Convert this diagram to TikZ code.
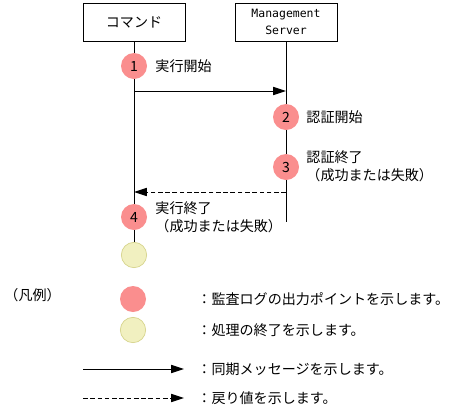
\documentclass[tikz,border=0pt]{standalone}
\usepackage{fontspec}
\setmainfont{Noto Sans CJK JP}
\newfontfamily\latinmono{DejaVu Sans Mono}
\usetikzlibrary{arrows.meta}
\definecolor{logpink}{RGB}{250,142,142}
\definecolor{endyellow}{RGB}{241,240,192}
\definecolor{endedge}{RGB}{214,212,140}
\begin{document}
\begin{tikzpicture}[x=0.03cm,y=-0.03cm,line width=0.8pt,
  >={Triangle[length=11pt,width=7pt]},
  font=\fontsize{12}{15.5}\selectfont,
  obj/.style={draw,minimum width=3.06cm,minimum height=1.14cm,inner sep=0pt,align=center},
  logpt/.style={circle,fill=logpink,minimum size=0.78cm,inner sep=0pt},
  endpt/.style={circle,fill=endyellow,draw=endedge,line width=0.6pt,minimum size=0.76cm,inner sep=0pt},
  lbl/.style={anchor=west,align=left,inner sep=0pt},
  ret/.style={dash pattern=on 4pt off 2.2pt}]
\useasboundingbox (0,0) rectangle (456,411);
% objects
\node[obj] (cmd) at (134,22) {コマンド};
\node[obj,font=\latinmono\fontsize{9.8}{15}\selectfont] (srv) at (286,22) {Management\\Server};
% audit log points
\node[logpt] (p1) at (134,66) {1};
\node[logpt] (p2) at (286,117) {2};
\node[logpt] (p3) at (286,167) {3};
\node[logpt] (p4) at (134,217) {4};
\node[endpt] (done) at (134,255) {};
\coordinate (srvend) at (286,222);
\node[lbl] (l1) at (155,66) {実行開始};
\node[lbl] (l2) at (306,117) {認証開始};
\node[lbl] (l3) at (306,166) {認証終了\\（成功または失敗）};
\node[lbl] (l4) at (155,217) {実行終了\\（成功または失敗）};
% lifelines
\draw (cmd.south) -- (p1.north);
\draw (p1.south) -- (p4.north);
\draw (p4.south) -- (done.north);
\draw (srv.south) -- (p2.north);
\draw (p2.south) -- (p3.north);
\draw (p3.south) -- (srvend);
% messages
\coordinate (callA) at (134,91);
\coordinate (callB) at (286,91);
\coordinate (retA) at (286,192);
\coordinate (retB) at (134,192);
\draw[->] (callA) -- (callB);
\draw[->,ret] (retA) -- (retB);
% legend
\node[lbl] (hanrei) at (4,295) {（凡例）};
\node[logpt] (keylog) at (133,299) {};
\node[endpt] (keyend) at (133,330) {};
\coordinate (keyA) at (83,369);
\coordinate (keyB) at (184,369);
\coordinate (keyC) at (83,398);
\coordinate (keyD) at (184,398);
\draw[->] (keyA) -- (keyB);
\draw[->,ret] (keyC) -- (keyD);
\node[lbl] (t1) at (197,299) {：監査ログの出力ポイントを示します。};
\node[lbl] (t2) at (197,330) {：処理の終了を示します。};
\node[lbl] (t3) at (197,369) {：同期メッセージを示します。};
\node[lbl] (t4) at (197,398) {：戻り値を示します。};
\end{tikzpicture}
\end{document}
